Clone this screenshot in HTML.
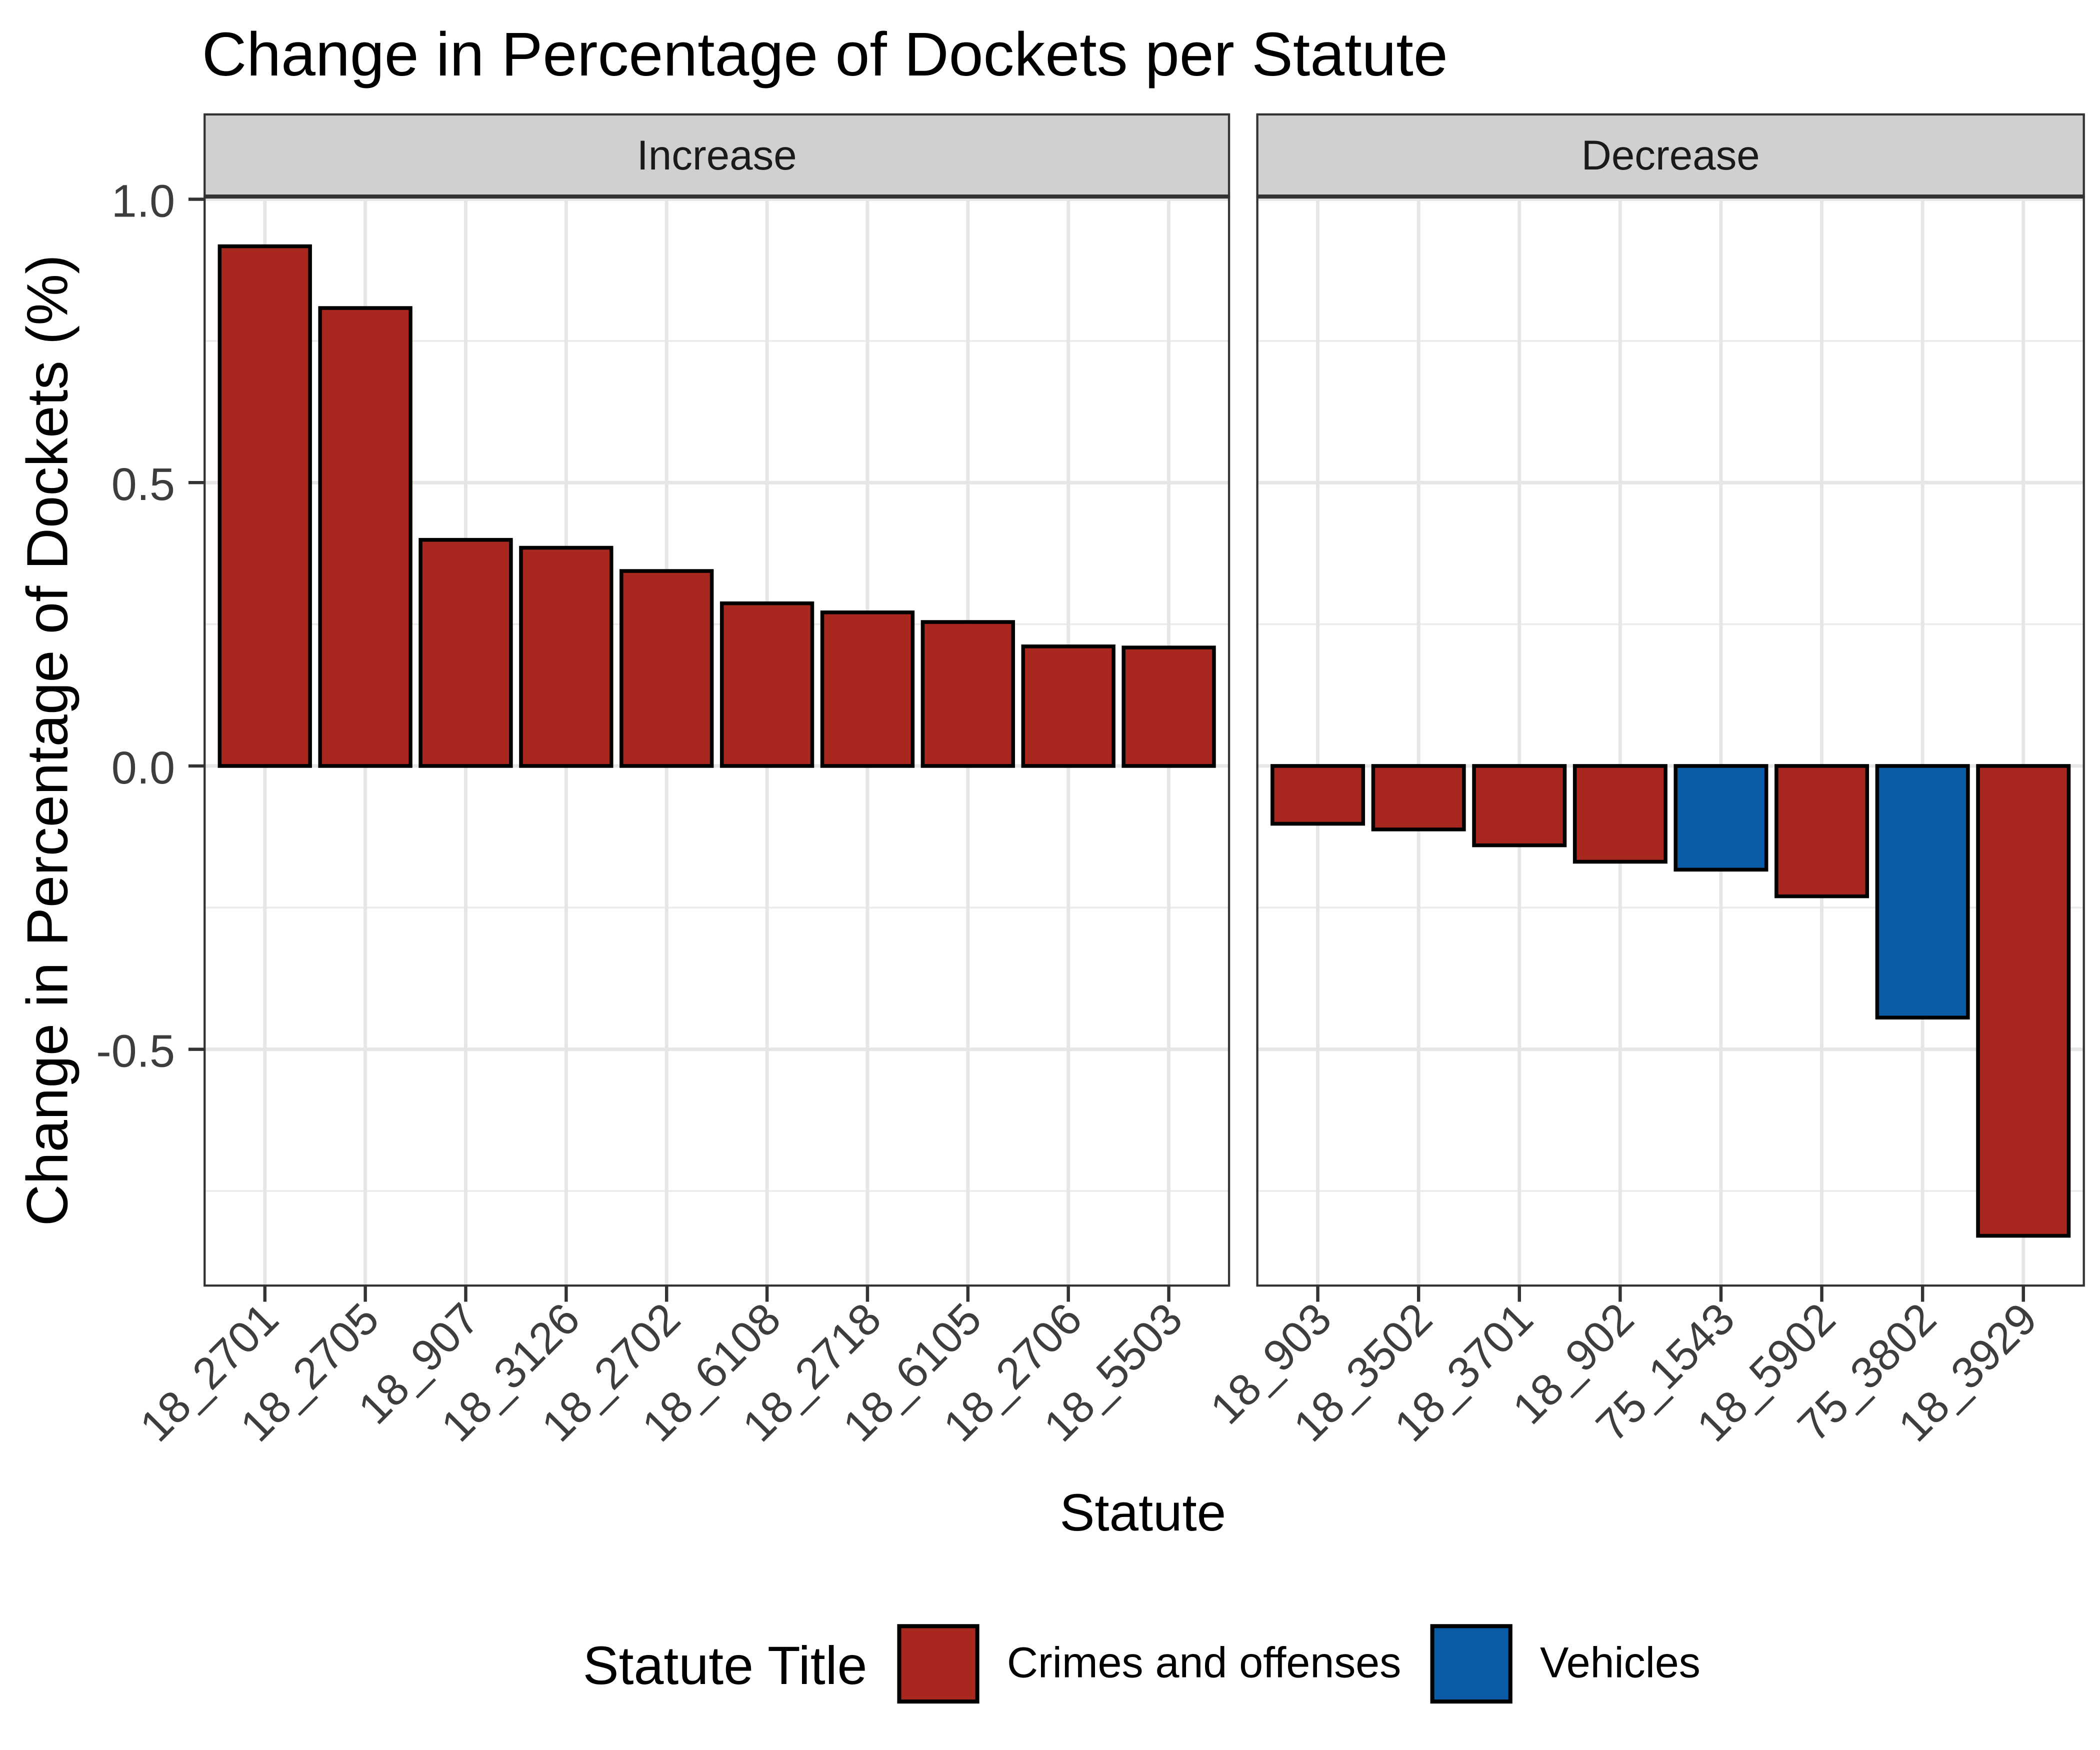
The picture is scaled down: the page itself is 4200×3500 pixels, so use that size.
<!DOCTYPE html>
<html><head><meta charset="utf-8"><style>
html,body{margin:0;padding:0;background:#fff}
svg{display:block;font-family:"Liberation Sans",Arial,sans-serif}
</style></head><body>
<svg id="chart" width="4200" height="3500" viewBox="0 0 1560 1300" xmlns="http://www.w3.org/2000/svg">
<rect width="1560" height="1300" fill="#fff"/>
<text x="150" y="56" font-size="46" fill="#000">Change in Percentage of Dockets per Statute</text>
<g id="panels"></g>
<text transform="translate(50,550) rotate(-90)" text-anchor="middle" font-size="43" fill="#000">Change in Percentage of Dockets (%)</text>
<text x="849" y="1137" text-anchor="middle" font-size="39" fill="#000">Statute</text>
<g>
<text x="433" y="1251" font-size="40" fill="#000">Statute Title</text>
<g>
<rect x="668" y="1208" width="58" height="56" fill="#A8281F" stroke="#000" stroke-width="3"/>
<text x="748" y="1246" font-size="32" fill="#000">Crimes and offenses</text></g>
<g>
<rect x="1064" y="1208" width="58" height="56" fill="#0B5CA6" stroke="#000" stroke-width="3"/>
<text x="1144" y="1246" font-size="32" fill="#000">Vehicles</text></g>
</g>
</svg>
<script>
const incCats=["18_2701","18_2705","18_907","18_3126","18_2702","18_6108","18_2718","18_6105","18_2706","18_5503"];
const incVals=[0.917,0.808,0.399,0.385,0.344,0.287,0.271,0.254,0.211,0.209];
const incGroup=["c","c","c","c","c","c","c","c","c","c"];
const decCats=["18_903","18_3502","18_3701","18_902","75_1543","18_5902","75_3802","18_3929"];
const decVals=[-0.102,-0.112,-0.140,-0.169,-0.183,-0.230,-0.444,-0.829];
const decGroup=["c","c","c","c","v","c","v","c"];
const yTicks=[1.0,0.5,0.0,-0.5];
const yTickLabels=["1.0","0.5","0.0","-0.5"];
const yMinor=[0.75,0.25,-0.25,-0.75];

const NS="http://www.w3.org/2000/svg";
const top0=146,bot0=955;
const y=v=>569-421*v;
const colors={c:"#A8281F",v:"#0B5CA6"};
const g=document.getElementById("panels");
function el(t,a,p){const e=document.createElementNS(NS,t);for(const k in a)e.setAttribute(k,a[k]);(p||g).appendChild(e);return e;}

function panel(x0,x1,label,cats,vals,grp,showY,name){
  const pg=el("g",{});
  
  
  const n=cats.length,u=(x1-x0)/(n+0.2);
  const x=i=>x0+(0.6+i)*u;
  yMinor.forEach(v=>{const l=el("line",{x1:x0,x2:x1,y1:y(v),y2:y(v),stroke:"#EBEBEB","stroke-width":1.3},pg);
    });
  yTicks.forEach(v=>{const l=el("line",{x1:x0,x2:x1,y1:y(v),y2:y(v),stroke:"#E6E6E6","stroke-width":2.6},pg);
    });
  cats.forEach((c,i)=>{const l=el("line",{x1:x(i),x2:x(i),y1:top0,y2:bot0,stroke:"#E6E6E6","stroke-width":2.6},pg);
    });
  vals.forEach((v,i)=>{const y0=Math.min(y(0),y(v)),h=Math.abs(y(v)-y(0));
    const r=el("rect",{x:x(i)-0.45*u,y:y0,width:0.9*u,height:h,fill:colors[grp[i]],stroke:"#000","stroke-width":2.8},pg);
    
    });
  const b=el("rect",{x:x0,y:top0,width:x1-x0,height:bot0-top0,fill:"none",stroke:"#333","stroke-width":1.6},pg);
  
  const s=el("rect",{x:x0,y:85,width:x1-x0,height:61,fill:"#D0D0D0",stroke:"#333","stroke-width":1.6},pg);
  
  const sl=el("line",{x1:x0,x2:x1,y1:146,y2:146,stroke:"#333","stroke-width":3},pg);
  
  const st=el("text",{x:(x0+x1)/2,y:126,"text-anchor":"middle","font-size":31,fill:"#1A1A1A"},pg);st.textContent=label;
  
  cats.forEach((c,i)=>{
    const t=el("line",{x1:x(i),x2:x(i),y1:bot0,y2:bot0+12,stroke:"#333","stroke-width":2.4},pg);
    
    const tx=el("text",{transform:`translate(${x(i)+12},${bot0+27}) rotate(-45)`,"text-anchor":"end","font-size":33,fill:"#3D3D3D"},pg);
    tx.textContent=c;
    });
  if(showY){yTicks.forEach((v,i)=>{
    const t=el("line",{x1:x0-12,x2:x0,y1:y(v),y2:y(v),stroke:"#333","stroke-width":2.4},pg);
    
    const tx=el("text",{x:x0-22,y:y(v)+13,"text-anchor":"end","font-size":34,fill:"#3D3D3D"},pg);
    tx.textContent=yTickLabels[i];
    });}
}
panel(152,913,"Increase",incCats,incVals,incGroup,true,"increase");
panel(934,1548,"Decrease",decCats,decVals,decGroup,false,"decrease");
</script>
</body></html>
